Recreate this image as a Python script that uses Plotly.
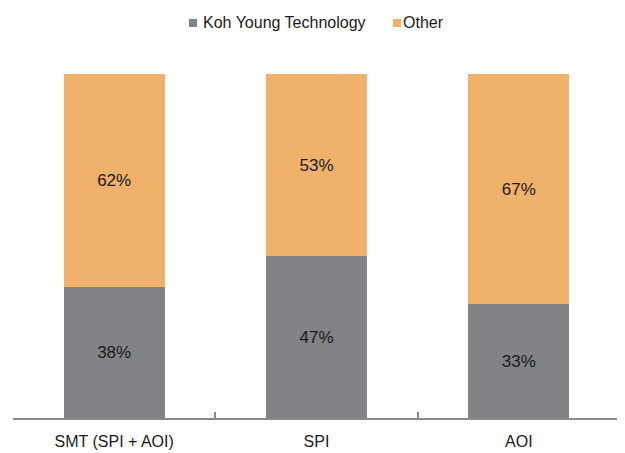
import plotly.graph_objects as go

categories = ["SMT (SPI + AOI)", "SPI", "AOI"]
koh_young = [38, 47, 33]
other = [62, 53, 67]
series_names = ["Koh Young Technology", "Other"]
colors = ["#818386", "#F0B26A"]

FONT = "Liberation Sans, Arial, sans-serif"
TXT = "#1a1a1a"

# the page body has an 8px default margin; lay out in window pixels
OFF = 8
WIN_W, WIN_H = 625, 453
W, H = WIN_W - OFF, WIN_H - OFF
# plot area in window pixels: x 13..620, y 74..418
L = 13 - OFF
R = WIN_W - 620
T = 74 - OFF
B = WIN_H - 418
pw, ph = W - L - R, H - T - B


def px_x(x):
    return (x - OFF - L) / pw


def px_y(y):
    return (WIN_H - B - y) / ph


fig = go.Figure()
for name, vals, col in zip(series_names, [koh_young, other], colors):
    fig.add_trace(go.Bar(
        x=categories, y=vals, name=name,
        marker=dict(color=col, line=dict(width=0)),
        text=[f"{v}%" for v in vals], textposition="inside",
        insidetextanchor="middle", textfont=dict(color=TXT, size=17, family=FONT),
        showlegend=False,
    ))

# custom legend (small squares + labels)
legend_items = [(series_names[0], colors[0], 189, 203), (series_names[1], colors[1], 393, 403)]
for name, col, sx, tx in legend_items:
    fig.add_shape(type="rect", xref="paper", yref="paper",
                  x0=px_x(sx), x1=px_x(sx + 8), y0=px_y(27), y1=px_y(19),
                  fillcolor=col, line=dict(width=0))
    fig.add_annotation(text=name, xref="paper", yref="paper", x=px_x(tx - 2), y=px_y(23),
                       xanchor="left", yanchor="middle", showarrow=False,
                       font=dict(size=16, family=FONT, color=TXT))

fig.update_layout(
    barmode="stack",
    bargap=0.5,
    width=W, height=H,
    margin=dict(l=L, r=R, t=T, b=B, autoexpand=False),
    paper_bgcolor="white", plot_bgcolor="white",
    font=dict(family=FONT, size=16, color=TXT),
    showlegend=False,
    uniformtext=dict(mode="show", minsize=17),
    xaxis=dict(showline=True, linecolor="#8a8a8a", linewidth=1.5,
               ticks="inside", tickson="boundaries", ticklen=6, tickcolor="#8a8a8a",
               tickwidth=1.5, tickfont=dict(size=16, family=FONT, color=TXT),
               ticklabelstandoff=8,
               showgrid=False, automargin=False),
    yaxis=dict(range=[0, 100], visible=False, showgrid=False, automargin=False),
)

fig.write_html("out.html")
